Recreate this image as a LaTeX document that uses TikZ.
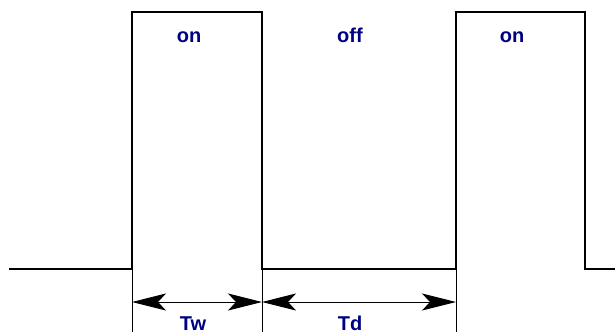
\documentclass[tikz,border=0pt]{standalone}
\usepackage{fontspec}
\setmainfont{Liberation Sans}
\usetikzlibrary{arrows.meta}
\definecolor{labelblue}{RGB}{0,0,128}
\begin{document}
\begin{tikzpicture}[x=1pt,y=-1pt,
  wave/.style={line width=1.4pt,black},
  guide/.style={line width=1pt,black},
  dim/.style={line width=0.9pt,black,{Stealth[length=34pt,width=17pt,inset=8pt]}-{Stealth[length=34pt,width=17pt,inset=8pt]}},
  lbl/.style={text=labelblue,font=\fontsize{20}{20}\selectfont\bfseries,inner sep=0pt,anchor=base}]
\useasboundingbox (0,0) rectangle (615,332);
% pulse train
\coordinate (s) at (9,269);
\coordinate (r1) at (132,269);
\coordinate (r1t) at (132,12);
\coordinate (f1t) at (262,12);
\coordinate (f1) at (262,269);
\coordinate (r2) at (456,269);
\coordinate (r2t) at (456,12);
\coordinate (f2t) at (585,12);
\coordinate (f2) at (585,269);
\coordinate (e) at (615,269);
\draw[wave] (s) -- (r1) -- (r1t) -- (f1t) -- (f1) -- (r2) -- (r2t) -- (f2t) -- (f2) -- (e);
% extension lines for the time marks
\coordinate (b1) at (132,332);
\coordinate (b2) at (262,332);
\coordinate (b3) at (456,332);
\draw[guide] (r1) -- (b1);
\draw[guide] (f1) -- (b2);
\draw[guide] (r2) -- (b3);
% dimension arrows
\coordinate (a1) at (132,302);
\coordinate (a2) at (262,302);
\coordinate (a3) at (456,302);
\draw[dim] (a1) -- (a2);
\draw[dim] (a2) -- (a3);
% labels
\node[lbl] (on1) at (189,42) {on};
\node[lbl] (off) at (350,42) {off};
\node[lbl] (on2) at (512,42) {on};
\node[lbl] (tw) at (193,330) {Tw};
\node[lbl] (td) at (350,330) {Td};
\end{tikzpicture}
\end{document}
